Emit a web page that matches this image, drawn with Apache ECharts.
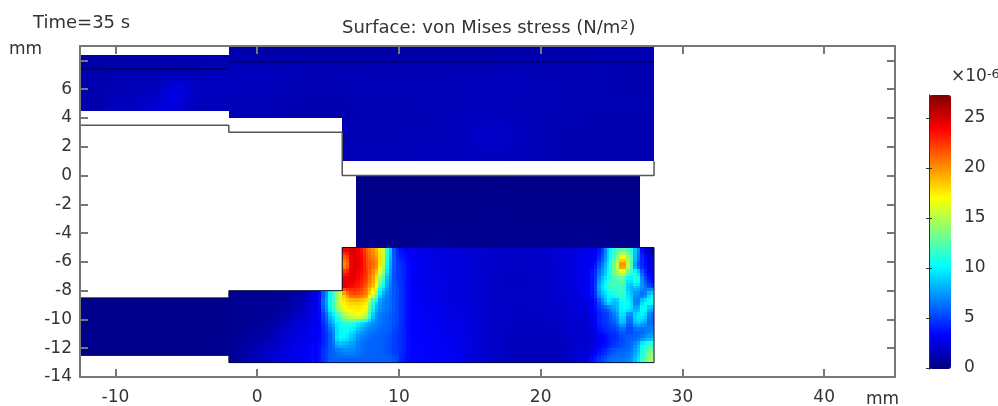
<!DOCTYPE html>
<html><head><meta charset="utf-8">
<style>html,body{margin:0;padding:0;background:#fff}#c{width:998px;height:406px;filter:blur(0.45px)}</style>
<script src="https://cdn.jsdelivr.net/npm/echarts@6/dist/echarts.min.js"></script>
</head><body><div id="c"></div>
<script>
const xTicks=[-10,0,10,20,30,40];
const yTicks=[-14,-12,-10,-8,-6,-4,-2,0,2,4,6,8];
const yLabels=[-14,-12,-10,-8,-6,-4,-2,0,2,4,6];
const barTicks=[0,5,10,15,20,25];
const jet=['#00007f','#0000ff','#0080ff','#00ffff','#80ff80','#ffff00','#ff8000','#ff0000','#7f0000'];
const N=null;
// stress values (x10^-6 N/m^2), rows from top to bottom
const topLeft=[
[1.1,1.1,1.2,1.2,1.2,1.2,1.3,1.3,1.3,1.4],
[1.3,1.3,1.4,1.5,1.5,1.6,1.5,1.5,1.6,1.8],
[1.3,1.3,1.4,1.5,1.6,1.5,3.6,2.0,1.8,1.8],
[1.2,1.3,1.8,1.6,2.2,2.4,2.6,1.6,1.5,1.6]];
const topRight=[
[1.0,1.0,1.0,1.0,1.0,1.1,1.1,1.1,1.1,1.1,1.2,1.2,1.3,1.3,1.4],
[1.7,1.6,1.5,1.4,1.4,1.4,1.4,1.4,1.4,1.4,1.5,1.4,1.4,1.4,1.3],
[1.8,1.6,1.5,1.5,1.5,1.5,1.5,1.5,1.6,1.7,1.6,1.5,1.4,1.4,1.3],
[1.6,1.5,1.4,1.3,1.5,1.5,1.5,1.6,1.6,1.7,1.6,1.5,1.4,1.4,1.4],
[1.5,1.4,1.3,1.2,1.4,1.4,1.4,1.5,1.6,1.6,1.5,1.5,1.4,1.4,1.4],
[N,N,N,N,1.4,1.4,1.5,1.5,1.8,1.8,1.6,1.4,1.4,1.3,1.3],
[N,N,N,N,1.4,1.4,1.5,1.5,1.8,2.2,1.7,1.4,1.3,1.3,1.3],
[N,N,N,N,1.5,1.6,1.6,1.7,1.7,1.7,1.5,1.4,1.3,1.3,1.3]];
const middle=[
[.3,.3,.3,.3,.3,.3,.3,.3,.3,.3],
[.3,.3,.3,.3,.4,.4,.3,.3,.3,.3],
[.3,.4,.4,.4,.4,.4,.4,.4,.4,.3],
[.4,.4,.5,.5,.4,.4,.4,.5,.5,.4]];
const leftBlock=[[.3,.3,.3,.3,.3],[.3,.3,.3,.3,.3],[.3,.3,.3,.3,.35],[.3,.3,.3,.35,.35]];
const lowerLeft=[
[.5,.5,.5,.6,.8,1.5],
[.5,.5,.6,.8,1.3,2.2],
[.5,.6,.8,1.2,2.4,2.5],
[.6,.9,1.3,1.8,2.6,3.0],
[.7,1.4,1.9,2.4,2.8,3.2]];
const hotA=[
[N,N,N,N,24,25,24,21.5,19.5,17,10,4.5,3.5,3],
[N,N,N,N,21,25,24.5,22,20.5,17.5,9,5,4,3.5],
[N,N,N,N,20,25,24.5,22,21,17,8.5,5,4.5,3.5],
[N,N,N,N,23,25,24,22.5,19.5,15,8,5,4.5,3.5],
[N,N,N,N,24.5,24.5,23.5,22,19,13,7.5,5,4.5,3.5],
[N,N,N,N,24.5,23.5,23,21,18,11,7,5.5,4.5,3.5],
[3,6.5,11,15,19.5,22,21.5,20,15,8,6.5,5.5,4.5,3.5],
[3,7,11,15.5,18,18.5,18.5,17.5,10,7,6.5,5.5,4.5,3.5],
[3,6.5,11,15,17,17.5,17.5,16.5,8.5,7,6.5,5.5,4.5,3.5],
[3,5.5,9,12,15,16.5,17,15,7.5,6.5,6,5.5,4.5,3.5],
[3,5,8,10.5,11.5,11.5,10,8.5,7,6.5,6,5.5,4.5,3.5],
[3,4.5,6.5,10,10.5,9.5,8,7,6.5,6,6,5,4.5,3.5],
[3,4.5,6,10.5,10,8.5,7,6.5,6,6,5.5,5,4.5,3.5],
[3.5,4.5,6,8.5,8,7.5,6.5,6,6,6,5.5,5,4.5,3.5],
[3.5,5,6,6.5,7,7,6.5,6,6,6,5.5,5,4.5,3.5],
[3.5,5,6,6,6,6,6,6,6,6,6,5.5,4,3.5]];
const centre=[
[2.8,2.6,2.5,2.4,2.2,2.1,2,2,2,2.1,2.4,2.6],
[3,2.7,2.5,2.4,2.2,2,1.8,1.8,1.8,2,2.2,2.6],
[3,2.7,2.6,2.4,2.2,2,1.8,1.8,1.8,2,2.2,2.6],
[3.1,2.8,2.6,2.5,2.2,2,1.9,1.9,1.9,2,2.2,2.5],
[3.2,3,2.7,2.6,2.3,2,1.9,1.8,1.8,1.9,2,2.3],
[3.3,3.1,2.9,2.7,2.3,2,1.9,1.8,1.7,1.8,1.9,2.2],
[3.4,3.2,3,2.9,2.4,2,1.8,1.7,1.6,1.6,1.7,2.2],
[3.5,3.4,3.2,2.9,2.3,2,1.8,1.6,1.5,1.5,1.6,2.2]];
const hotB=[
[3,3,4,9,12,13,12,8,2.5,1],
[3,3,5,9,13,19,14,7,4,2],
[3,3.5,6,10,14,22,14,6,4,2.5],
[3,4,7,10,14,16,12,10.5,5,3],
[3,4,8,11,12,13,9,12,6,3.5],
[3,4,9,12,12,12,8,9,7,5],
[3,4,8,10,11,12,9,7,6,10],
[2.5,3.5,6,10,8,11,10,6,10,11],
[2.5,3.5,5,6,8,10.5,10,7.5,11,8],
[2,3,4.5,5,7,10,6,10,10,6],
[2,3,4.5,5,6,9,5.5,9,8,6],
[2,2.5,4,4.5,5,6,5,6,6,7],
[2,2.5,3,4,4.5,5.5,6,6,7,8],
[2,2.5,3.5,4,5,5.5,6,7.5,11,12],
[2,3,4,5,6,6,6.5,8,11.5,13.5],
[2.5,4,5,6,6.5,6.5,7,9,12,15]];
// boundary lines in mm
const gapEdge=[[-12.5,3.5],[-2,3.5],[-2,3],[6,3],[6,0],[28,0],[28,1]];
const lowerEdge=[[-12.5,-8.5],[-2,-8.5],[-2,-8],[6,-8],[6,-5],[7,-5],[27,-5],[28,-5],[28,-13],[-2,-13],[-2,-12.5],[-12.5,-12.5]];
const innerLeft=[[-12.5,7.4],[-2,7.4]];
const innerRight=[[-2,7.9],[28,7.9]];

const cells=[],blocks=[];
function addBlock(m,x0,yTop,dx,dy,part){
  const b={m,x0,yTop,dx,dy,part};blocks.push(b);
  m.forEach((r,i)=>r.forEach((v,j)=>{
    if(v!==null)cells.push([x0+j*dx,yTop-i*dy,x0+(j+1)*dx,yTop-(i+1)*dy,v,part,dx,dy]);}));}
addBlock(topLeft,-12.5,8.4,1.05,0.975,0);
addBlock(topRight,-2,9,2,1,0);
addBlock(middle,7,0,2,1.25,1);
addBlock(leftBlock,-12.5,-8.5,2.1,1,2);
addBlock(lowerLeft,-2,-8,1,1,2);
addBlock(hotA,4,-5,.5,.5,2);
addBlock(centre,11,-5,1,1,2);
addBlock(hotB,23,-5,.5,.5,2);

// the surface is shaded smoothly, as the finite-element plot is: each cell is
// painted in small tiles that blend the values read for the neighbouring cells
function readAt(x,y,part){
  for(const b of blocks){
    if(b.part!==part)continue;
    const j=Math.floor((x-b.x0)/b.dx),i=Math.floor((b.yTop-y)/b.dy);
    if(i>=0&&j>=0&&i<b.m.length&&j<b.m[0].length&&b.m[i][j]!==null)return b.m[i][j];
  }
  return null;
}
function shade(x,y,part,dx,dy){
  let s=0,n=0;
  const k=dx<1?0.2:0.3;
  for(let a=-2;a<=2;a++)for(let c=-2;c<=2;c++){
    const v=readAt(x+a*dx*k,y+c*dy*k,part);
    if(v!==null){s+=v;n++;}
  }
  return s/n;
}
const barMax=27.3;

const axisCol='#777',txt='#333',font='"DejaVu Sans"';
const line=(d,c,w)=>({type:'line',data:d,symbol:'none',silent:true,z:4,xAxisIndex:0,yAxisIndex:0,
  lineStyle:{color:c,width:w},animation:false});
const tick=(vals,len)=>({show:true,inside:true,length:len,customValues:vals,lineStyle:{color:axisCol,width:2}});
const frame={show:true,onZero:false,lineStyle:{color:axisCol,width:2}};
const sup={fontFamily:font,fontSize:13,color:txt,verticalAlign:'top',lineHeight:13,padding:[0,0,9,0]};
const chart=echarts.init(document.getElementById('c'),null,{renderer:'canvas'});
chart.setOption({
 animation:false,
 backgroundColor:'#fff',
 title:[
  {text:'Time=35 s',left:33,top:14,padding:0,textStyle:{fontFamily:font,fontSize:18,fontWeight:'normal',color:txt}},
  {text:'Surface: von Mises stress (N/m{s|2})',left:342,top:19,padding:0,
   textStyle:{fontFamily:font,fontSize:18,fontWeight:'normal',color:txt,rich:{s:sup}}},
  {text:'mm',left:9,top:41,padding:0,textStyle:{fontFamily:font,fontSize:17,fontWeight:'normal',color:txt}},
  {text:'mm',left:866,top:391,padding:0,textStyle:{fontFamily:font,fontSize:17,fontWeight:'normal',color:txt}},
  {text:'×10{s|-6}',left:951,top:68,padding:0,
   textStyle:{fontFamily:font,fontSize:17,fontWeight:'normal',color:txt,rich:{s:sup}}}
 ],
 grid:[{left:80,top:46,width:815,height:331,show:false},{left:929,top:95,width:22,height:274,show:false}],
 xAxis:[
  {gridIndex:0,type:'value',min:-12.5,max:45,position:'bottom',z:5,axisLine:frame,axisTick:tick(xTicks,8),splitLine:{show:false},
   axisLabel:{customValues:xTicks,margin:12,fontFamily:font,fontSize:17,color:txt}},
  {gridIndex:0,type:'value',min:-12.5,max:45,position:'top',z:5,axisLine:frame,axisTick:tick(xTicks,8),splitLine:{show:false},axisLabel:{show:false}},
  {gridIndex:1,type:'value',min:0,max:1,show:false}
 ],
 yAxis:[
  {gridIndex:0,type:'value',min:-14,max:9,position:'left',z:5,axisLine:frame,axisTick:tick(yTicks,8),splitLine:{show:false},
   axisLabel:{customValues:yLabels,margin:8,fontFamily:font,fontSize:17,color:txt}},
  {gridIndex:0,type:'value',min:-14,max:9,position:'right',z:5,axisLine:frame,axisTick:tick(yTicks,8),splitLine:{show:false},axisLabel:{show:false}},
  {gridIndex:1,type:'value',min:-0.1,max:barMax,position:'right',z:5,axisLine:{show:true,lineStyle:{color:'#333',width:1}},
   axisTick:{show:true,inside:true,length:3,customValues:barTicks,lineStyle:{color:'#333',width:1}},splitLine:{show:false},
   axisLabel:{customValues:barTicks,margin:13,fontFamily:font,fontSize:17,color:txt}},
  {gridIndex:1,type:'value',min:-0.1,max:barMax,position:'left',z:5,axisLine:{show:true,lineStyle:{color:'#333',width:1}},
   axisTick:{show:true,inside:true,length:3,customValues:barTicks,lineStyle:{color:'#333',width:1}},splitLine:{show:false},axisLabel:{show:false}}
 ],
 visualMap:{type:'continuous',min:0,max:barMax,seriesIndex:0,dimension:4,left:929,top:95,itemWidth:22,itemHeight:274,padding:0,
  text:null,showLabel:false,calculable:false,hoverLink:false,inRange:{color:jet}},
 series:[
  {type:'custom',xAxisIndex:0,yAxisIndex:0,silent:true,z:2,clip:true,data:cells,
   encode:{x:[0,2],y:[1,3]},
   renderItem:function(p,api){
    const x0=api.value(0),y0=api.value(1),x1=api.value(2),y1=api.value(3);
    const part=api.value(5),dx=api.value(6),dy=api.value(7);
    const a=api.coord([x0,y0]),b=api.coord([x1,y1]);
    const L=Math.round(a[0]),T=Math.round(a[1]),R=Math.round(b[0]),B=Math.round(b[1]);
    const nx=Math.max(1,Math.round((R-L)/3)),ny=Math.max(1,Math.round((B-T)/3));
    const children=[];
    for(let i=0;i<nx;i++)for(let j=0;j<ny;j++){
      const l=L+Math.round((R-L)*i/nx),r=L+Math.round((R-L)*(i+1)/nx);
      const t=T+Math.round((B-T)*j/ny),o=T+Math.round((B-T)*(j+1)/ny);
      const v=shade(x0+(x1-x0)*(i+.5)/nx,y0+(y1-y0)*(j+.5)/ny,part,dx,dy);
      children.push({type:'rect',shape:{x:l,y:t,width:r-l,height:o-t},
        style:{fill:echarts.color.lerp(Math.min(1,v/barMax),jet)}});
    }
    return {type:'group',children:children};
   }},
  line(gapEdge,'#555',1.5),
  line(lowerEdge,'#00103a',1),
  line(innerLeft,'#000050',1.5),
  line(innerRight,'#000050',1.5)
 ]
});
</script></body></html>
